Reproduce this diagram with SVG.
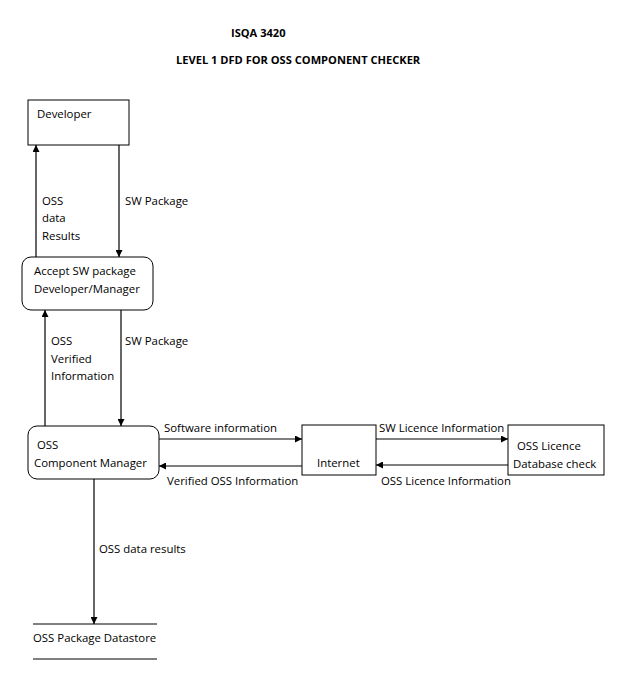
<svg xmlns="http://www.w3.org/2000/svg" width="642" height="691" viewBox="0 0 642 691">
<style>
text{font-family:"Open Sans","Liberation Sans",sans-serif;font-size:11.4px;fill:#000}
.t{font-weight:bold;font-size:11.1px}
.b{fill:#fff;stroke:#000;stroke-width:1}
.c{stroke:#000;stroke-width:1.2;fill:none;marker-end:url(#a)}
</style>
<defs>
<marker id="a" viewBox="0 0 10 10" refX="10" refY="5" markerWidth="7" markerHeight="7" markerUnits="userSpaceOnUse" orient="auto"><path d="M0,0L10,5L0,10z" fill="#000"/></marker>
</defs>
<rect width="642" height="691" fill="#fff"/>
<text class="t" x="231" y="37">ISQA 3420</text>
<text class="t" x="176" y="64">LEVEL 1 DFD FOR OSS COMPONENT CHECKER</text>
<g id="developer"><rect class="b" x="28" y="100" width="101" height="45"/><text x="37" y="118">Developer</text></g>
<g id="accept"><rect class="b" x="22" y="257" width="131" height="53" rx="9"/><text x="34" y="275">Accept SW package</text><text x="34" y="293">Developer/Manager</text></g>
<g id="ocm"><rect class="b" x="28" y="426" width="131" height="53" rx="9"/><text x="37" y="449">OSS</text><text x="34" y="467">Component Manager</text></g>
<g id="internet"><rect class="b" x="302" y="425" width="74" height="50"/><text x="317" y="467">Internet</text></g>
<g id="licdb"><rect class="b" x="508" y="425" width="96" height="50"/><text x="517" y="450">OSS Licence</text><text x="513" y="468">Database check</text></g>
<g id="datastore"><line x1="33" y1="624" x2="157" y2="624" stroke="#000"/><line x1="33" y1="659" x2="157" y2="659" stroke="#000"/><text x="33" y="642">OSS Package Datastore</text></g>
<g id="connectors">
<line class="c" x1="36" y1="257" x2="36" y2="145"/>
<line class="c" x1="119" y1="145" x2="119" y2="257"/>
<line class="c" x1="45" y1="426" x2="45" y2="310"/>
<line class="c" x1="121" y1="310" x2="121" y2="426"/>
<line class="c" x1="159" y1="439" x2="302" y2="439"/>
<line class="c" x1="302" y1="466" x2="159" y2="466"/>
<line class="c" x1="376" y1="439" x2="508" y2="439"/>
<line class="c" x1="508" y1="465" x2="376" y2="465"/>
<line class="c" x1="94" y1="479" x2="94" y2="624"/>
<text x="42" y="205">OSS</text><text x="42" y="222">data</text><text x="42" y="240">Results</text>
<text x="125" y="205">SW Package</text>
<text x="51" y="345">OSS</text><text x="51" y="363">Verified</text><text x="51" y="380">Information</text>
<text x="125" y="345">SW Package</text>
<text x="164" y="432">Software information</text>
<text x="167" y="485">Verified OSS Information</text>
<text x="379" y="432">SW Licence Information</text>
<text x="381" y="485">OSS Licence Information</text>
<text x="99" y="553">OSS data results</text>
</g>
</svg>
